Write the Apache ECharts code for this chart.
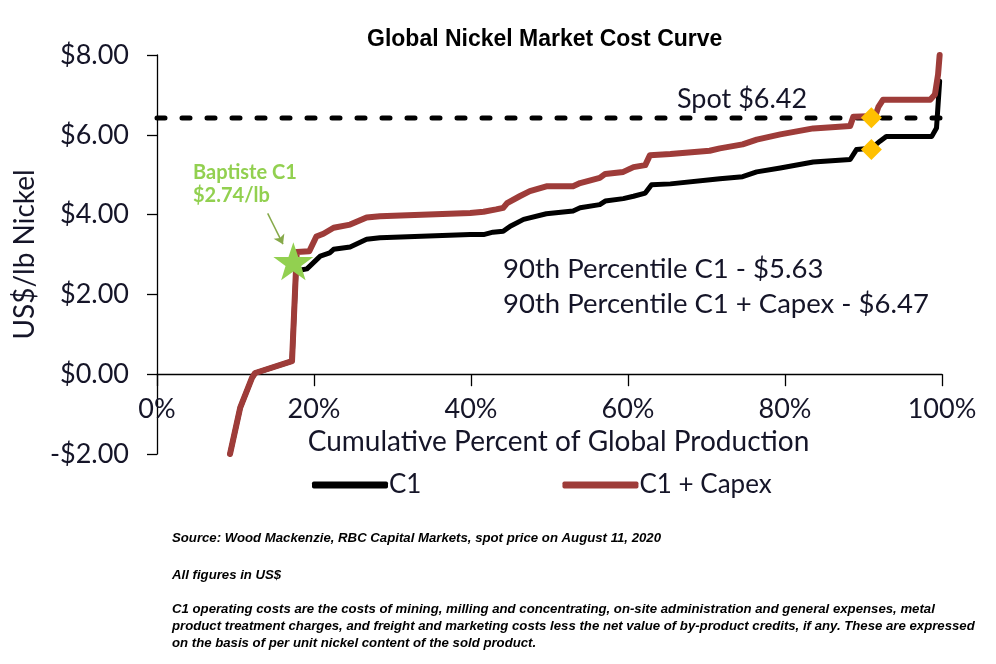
<!DOCTYPE html>
<html>
<head>
<meta charset="utf-8">
<script src="https://cdn.jsdelivr.net/npm/echarts@6/dist/echarts.min.js"></script>
<style>
  html, body { margin: 0; padding: 0; background: #fff; }
  #chart { width: 996px; height: 664px; }
</style>
</head>
<body>
<div id="chart"></div>
<script>
// cumulative % of production, cost in US$/lb
const c1Capex = [
  [9.3, -2.0], [10.6, -0.84], [12.1, -0.09], [12.5, 0.03], [17.2, 0.33], [17.8, 3.06],
  [19.4, 3.08], [20.3, 3.45], [21.2, 3.52], [22.5, 3.67], [24.6, 3.75], [26.7, 3.93],
  [28.4, 3.96], [39.9, 4.04], [41.6, 4.07], [43.2, 4.13], [44.1, 4.17], [44.6, 4.29],
  [46.2, 4.46], [47.5, 4.59], [49.6, 4.71], [53.0, 4.71], [53.9, 4.79], [56.4, 4.92],
  [57.1, 5.02], [59.4, 5.07], [60.7, 5.19], [62.2, 5.24], [62.8, 5.49], [65.4, 5.52],
  [70.4, 5.60], [71.7, 5.66], [74.6, 5.76], [76.4, 5.88], [79.4, 6.01], [83.6, 6.16],
  [88.3, 6.22], [88.7, 6.45], [91.5, 6.47], [91.9, 6.70], [92.5, 6.88], [98.5, 6.88],
  [99.1, 7.01], [99.5, 7.51], [99.7, 8.0]
];
const c1 = [
  [9.3, -2.0], [10.6, -0.84], [12.1, -0.09], [12.5, 0.03], [17.2, 0.33], [17.7, 2.55],
  [18.5, 2.62], [19.1, 2.64], [19.9, 2.79], [20.8, 2.96], [22.0, 3.04], [22.5, 3.13],
  [24.6, 3.19], [26.7, 3.38], [28.4, 3.42], [39.9, 3.50], [41.6, 3.50], [42.8, 3.56],
  [44.1, 3.58], [45.0, 3.71], [46.7, 3.88], [49.6, 4.02], [53.0, 4.09], [53.9, 4.17],
  [56.4, 4.25], [57.1, 4.34], [59.4, 4.40], [60.7, 4.46], [62.2, 4.54], [63.0, 4.75],
  [65.4, 4.77], [71.7, 4.90], [74.6, 4.95], [76.4, 5.07], [79.4, 5.17], [83.6, 5.32],
  [88.3, 5.38], [89.1, 5.63], [91.0, 5.66], [92.1, 5.84], [92.9, 5.96], [98.7, 5.96],
  [99.3, 6.17], [99.7, 7.34]
];
const spotPrice = 6.42;
const spotLine = [[0, spotPrice], [100, spotPrice]];
const percentiles = [[91.0, 6.43], [91.0, 5.63]];
const baptiste = [[17.37, 2.83]];
const arrowFrom = [14.1, 4.03];
const arrowTo = [16.05, 3.26];

const xTicks = { min: 0, max: 100, interval: 20 };
const yTicks = { min: -2, max: 8, interval: 2 };

const footnotes = [
  'Source: Wood Mackenzie, RBC Capital Markets, spot price on August 11, 2020',
  'All figures in US$',
  'C1 operating costs are the costs of mining, milling and concentrating, on-site administration and general expenses, metal',
  'product treatment charges, and freight and marketing costs less the net value of by-product credits, if any. These are expressed',
  'on the basis of per unit nickel content of the sold product.'
];
const footY = [540, 577, 611, 628, 645];

const RED = '#9e3c39';
const GREEN = '#92d050';
const TXT = '#151528';
const STAR = 'path://M50,0 L61.8,35.1 L98.1,35.1 L68.8,56.7 L79.4,91 L50,70 L20.6,91 L31.2,56.7 L1.9,35.1 L38.2,35.1 Z';

const GRID = { left: 157, right: 54, top: 55, bottom: 210 };
const plotH = 664 - GRID.top - GRID.bottom;
// x axis sits on y = 0, labels and name go with it
const xOffset = -plotH * (0 - yTicks.min) / (yTicks.max - yTicks.min);

const chart = echarts.init(document.getElementById('chart'));

const fmtMoney = (v) => (v < 0 ? '-$' : '$') + Math.abs(v).toFixed(2);

const option = {
  animation: false,
  backgroundColor: '#fff',
  title: {
    text: 'Global Nickel Market Cost Curve',
    left: 362, top: 23,
    textStyle: { fontFamily: 'Liberation Sans', fontWeight: 'bold', fontSize: 23, color: '#000' }
  },
  legend: {
    data: ['C1', 'C1 + Capex'],
    left: 307, top: 467,
    icon: 'roundRect',
    itemWidth: 76, itemHeight: 7, itemGap: 141,
    selectedMode: false,
    textStyle: { fontFamily: 'Lato', fontSize: 26, color: TXT, padding: [0, 0, 0, -4] }
  },
  grid: GRID,
  xAxis: {
    type: 'value',
    min: xTicks.min, max: xTicks.max, interval: xTicks.interval,
    offset: xOffset,
    name: 'Cumulative Percent of Global Production',
    nameLocation: 'middle', nameGap: 54,
    nameTextStyle: { fontFamily: 'Lato', fontSize: 28, color: TXT, padding: [0, 0, 0, 18] },
    axisLine: { onZero: false, lineStyle: { color: '#000', width: 1.3 } },
    axisTick: { show: true, length: 12, lineStyle: { color: '#000', width: 1.3 } },
    axisLabel: { formatter: '{value}%', fontFamily: 'Lato', fontSize: 27, color: TXT, margin: 22 },
    splitLine: { show: false }
  },
  yAxis: {
    type: 'value',
    min: yTicks.min, max: yTicks.max, interval: yTicks.interval,
    name: 'US$/lb Nickel',
    nameLocation: 'middle', nameGap: 110, nameRotate: 90,
    nameTextStyle: { fontFamily: 'Lato', fontSize: 28, color: TXT },
    axisLine: { show: true, onZero: false, lineStyle: { color: '#000', width: 1.3 } },
    axisTick: { show: true, length: 10, lineStyle: { color: '#000', width: 1.3 } },
    axisLabel: { formatter: fmtMoney, fontFamily: 'Lato', fontSize: 27, color: TXT, margin: 28 },
    splitLine: { show: false }
  },
  series: [
    {
      name: 'Spot',
      type: 'line',
      data: spotLine,
      showSymbol: false,
      silent: true,
      z: 1,
      lineStyle: { color: '#000', width: 5, type: [8, 17], cap: 'round' }
    },
    {
      name: 'C1',
      type: 'line',
      data: c1,
      showSymbol: false,
      z: 2,
      itemStyle: { color: '#000' },
      lineStyle: { color: '#000', width: 5, cap: 'round', join: 'round' }
    },
    {
      name: 'C1 + Capex',
      type: 'line',
      data: c1Capex,
      showSymbol: false,
      z: 3,
      itemStyle: { color: RED },
      lineStyle: { color: RED, width: 6, cap: 'round', join: 'round' }
    },
    {
      name: '90th Percentile',
      type: 'scatter',
      data: percentiles,
      symbol: 'diamond',
      symbolSize: 21,
      z: 4,
      itemStyle: { color: '#ffc000', opacity: 1 }
    },
    {
      name: 'Baptiste',
      type: 'scatter',
      data: baptiste,
      symbol: STAR,
      symbolSize: 40,
      symbolKeepAspect: true,
      z: 5,
      itemStyle: { color: GREEN, opacity: 1 },
      markLine: {
        silent: true,
        symbol: ['none', 'arrow'],
        symbolSize: 9,
        label: { show: false },
        lineStyle: { color: '#86a94a', width: 1.5, type: 'solid' },
        data: [[{ coord: arrowFrom }, { coord: arrowTo }]]
      }
    }
  ],
  graphic: [
    {
      type: 'text', left: 677, top: 86,
      style: { text: 'Spot $6.42', font: '27px Lato', fill: TXT }
    },
    {
      type: 'text', left: 503, top: 255,
      style: { text: '90th Percentile C1 - $5.63', font: '27.5px Lato', fill: TXT }
    },
    {
      type: 'text', left: 503, top: 290,
      style: { text: '90th Percentile C1 + Capex - $6.47', font: '27.5px Lato', fill: TXT }
    },
    {
      type: 'text', left: 193, top: 161,
      style: { text: 'Baptiste C1\n$2.74/lb', font: 'bold 20px Lato', fill: GREEN, lineHeight: 23 }
    }
  ].concat(footnotes.map((t, i) => ({
    type: 'text', left: 172, top: footY[i] - 8,
    style: { text: t, font: 'italic bold 13.2px "Liberation Sans"', fill: '#000' }
  })))
};

chart.setOption(option);
</script>
</body>
</html>
